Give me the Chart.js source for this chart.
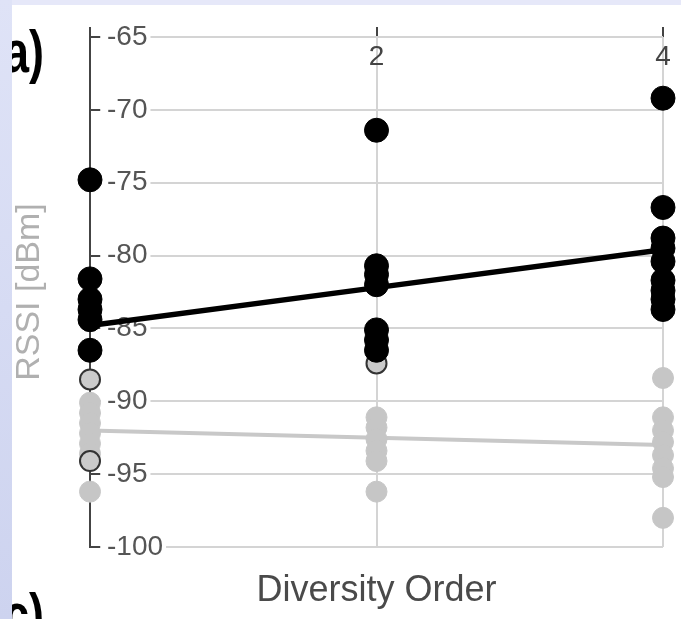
<!DOCTYPE html>
<html>
<head>
<meta charset="utf-8">
<script src="https://cdn.jsdelivr.net/npm/chart.js@4.4.1/dist/chart.umd.min.js"></script>
<style>
  html, body { margin: 0; padding: 0; background: #fff; }
  #wrap { position: relative; width: 681px; height: 619px; overflow: hidden; }
  #myChart { position: absolute; left: 0; top: 0; }
  .tag { position: absolute; font: bold 60px "Liberation Sans", Arial, sans-serif; color: #000;
         transform: scaleX(0.75); transform-origin: left top; line-height: 1; }
  #stripTop { position: absolute; left: 0; top: 0; width: 681px; height: 5px; background: #e6e8f9; }
  #stripLeft { position: absolute; left: 0; top: 0; width: 12px; height: 619px;
               background: linear-gradient(#dfe3f7, #cdd3ef); }
</style>
</head>
<body>
<div id="wrap">
  <canvas id="myChart" width="681" height="619"></canvas>
  <div class="tag" style="left:4px; top:22px;">a)</div>
  <div class="tag" style="left:4px; top:585px;">c)</div>
  <div id="stripTop"></div>
  <div id="stripLeft"></div>
</div>
<script>
// Diversity order (x, log scale) and RSSI samples in dBm
const diversityOrders = [1, 2, 4];
const rssiTicks = [-100, -95, -90, -85, -80, -75, -70, -65];

// dark points, one list per diversity order
const strongRssi = [
    [-74.8, -81.6, -83.0, -83.7, -84.4, -86.5],
    [-71.4, -80.7, -81.3, -82.0, -85.1, -85.8, -86.5],
    [-69.2, -76.7, -78.8, -79.5, -80.4, -81.7, -82.4, -83.0, -83.7],
];
// light gray points
const weakRssi = [
    [-90.1, -90.8, -91.5, -92.2, -92.9, -93.6, -96.2],
    [-91.1, -91.8, -92.6, -93.4, -94.1, -96.2],
    [-88.4, -91.1, -92.0, -92.8, -93.7, -94.6, -95.2, -98.0],
];
// gray points with a dark outline
const markedRssi = [
    [-88.5, -94.1],
    [-87.4],
    [],
];
// trend lines read at each order
const strongFit = [-84.8, -82.2, -79.6];
const weakFit = [-92.0, -92.5, -93.0];

const toPoints = (lists) => lists.flatMap((vals, i) => vals.map(v => ({ x: diversityOrders[i], y: v })));
const toLine = (vals) => vals.map((v, i) => ({ x: diversityOrders[i], y: v }));

const FONT = '"Liberation Sans", Arial, sans-serif';

const data = {
    datasets: [
        {
            type: 'scatter',
            data: toPoints(strongRssi),
            backgroundColor: '#000',
            borderColor: '#000',
            pointRadius: 12,
            clip: false,
        },
        {
            type: 'line',
            data: toLine(strongFit),
            borderColor: '#000',
            borderWidth: 5.5,
            pointRadius: 0,
            fill: false,
        },
        {
            type: 'scatter',
            data: toPoints(markedRssi),
            backgroundColor: '#cbcbcb',
            borderColor: '#333',
            borderWidth: 2,
            pointRadius: 10,
            clip: false,
        },
        {
            type: 'scatter',
            data: toPoints(weakRssi),
            backgroundColor: '#c6c6c6',
            borderColor: '#c6c6c6',
            pointRadius: 10.5,
            clip: false,
        },
        {
            type: 'line',
            data: toLine(weakFit),
            borderColor: '#c8c8c8',
            borderWidth: 4,
            pointRadius: 0,
            fill: false,
        },
    ],
};

const options = {
    responsive: false,
    animation: false,
    events: [],
    layout: { padding: { left: 9.6, right: 18, top: 37, bottom: 6 } },
    plugins: { legend: { display: false }, tooltip: { enabled: false } },
    scales: {
        x: {
            type: 'logarithmic',
            position: { y: -65 },   // order labels sit just under the top gridline
            min: 1,
            max: 4,
            afterBuildTicks: (axis) => { axis.ticks = diversityOrders.map(v => ({ value: v })); },
            // labels are inside the plot, don't let them push the right edge in
            afterFit: (axis) => { axis.paddingLeft = 0; axis.paddingRight = 0; },
            border: { display: false },
            grid: { color: '#d4d4d4', lineWidth: 2, drawTicks: true, tickLength: -10, tickColor: '#444', tickWidth: 2 },
            ticks: {
                color: '#444',
                font: { family: FONT, size: 28 },
                padding: 13.2,
                maxRotation: 0,
                autoSkip: false,
                callback: (v) => (v === 1 ? '' : String(v)),
            },
        },
        x2: {
            type: 'linear',
            position: 'bottom',
            display: true,
            border: { display: false },
            grid: { display: false, drawTicks: false },
            ticks: { display: false },
            title: {
                display: true,
                text: 'Diversity Order',
                color: '#4a4a4a',
                font: { family: FONT, size: 36 },
                padding: { top: 22.8, bottom: 0 },
            },
        },
        y: {
            min: -100,
            max: -65,
            afterBuildTicks: (axis) => { axis.ticks = rssiTicks.map(v => ({ value: v })); },
            border: { display: true, color: '#444', width: 2 },
            grid: { color: '#d4d4d4', lineWidth: 2, drawTicks: true, tickLength: -10, tickColor: '#444', tickWidth: 2 },
            ticks: {
                mirror: true,
                padding: 17,
                color: '#555',
                font: { family: FONT, size: 28 },
                showLabelBackdrop: true,
                backdropColor: '#fff',
                backdropPadding: { left: 6, right: 3, top: -8, bottom: -8 },
            },
            title: {
                display: true,
                text: 'RSSI [dBm]',
                color: '#b0b0b0',
                font: { family: FONT, size: 34 },
                padding: { top: 0, bottom: 15.6 },
            },
        },
    },
};

const ctx = document.getElementById('myChart').getContext('2d');
const rssiChart = new Chart(ctx, { data: data, options: options });
</script>
</body>
</html>
